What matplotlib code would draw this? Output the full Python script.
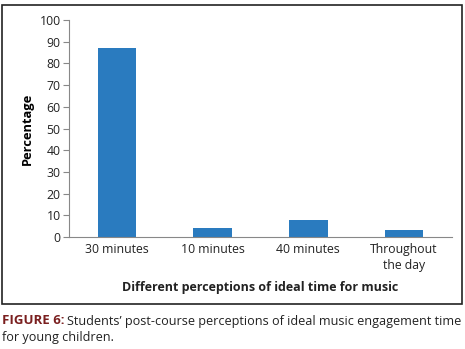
import matplotlib.pyplot as plt
from matplotlib.patches import Rectangle

categories = ['30 minutes', '10 minutes', '40 minutes', 'Throughout\nthe day']
percentages = [87, 4, 8, 3]
y_ticks = [0, 10, 20, 30, 40, 50, 60, 70, 80, 90, 100]

plt.rcParams['font.family'] = ['Open Sans', 'DejaVu Sans']

fig = plt.figure(figsize=(4.65, 3.49), dpi=100)
fig.patch.set_facecolor('white')

# frame around the chart
fig.add_artist(Rectangle((2 / 465, 45 / 349), 460 / 465, 299 / 349,
                         transform=fig.transFigure, fill=False,
                         edgecolor='#222222', linewidth=1.2))

ax = fig.add_axes([69 / 465, 112 / 349, 383 / 465, 217 / 349])
x = range(len(categories))
ax.bar(x, percentages, width=0.4, color='#2a7bbf')

ax.set_xlim(-0.5, len(categories) - 0.5)
ax.set_ylim(0, 100)
ax.set_yticks(y_ticks)
ax.set_xticks(list(x))
ax.set_xticklabels(categories, fontsize=8.8, color='#222222', linespacing=1.3)
ax.tick_params(axis='y', labelsize=8.8, colors='#222222', length=4, color='#888888', pad=2)
ax.tick_params(axis='x', length=0, pad=4)

for side in ['top', 'right']:
    ax.spines[side].set_visible(False)
ax.spines['left'].set_color('#888888')
ax.spines['bottom'].set_color('#888888')

ax.set_ylabel('Percentage', fontsize=9.3, fontweight='bold', labelpad=4)
fig.text(260 / 465, 1 - 288 / 349, 'Different perceptions of ideal time for music',
         ha='center', va='center', fontsize=9, fontweight='bold', color='#222222')

# caption
fig.text(2 / 465, 1 - 321 / 349, 'FIGURE 6:', fontsize=9.5, fontweight='bold',
         color='#7a1f1f', va='center')
fig.text(67 / 465, 1 - 321 / 349,
         'Students\u2019 post-course perceptions of ideal music engagement time',
         fontsize=9.1, color='#222222', va='center')
fig.text(2 / 465, 1 - 337 / 349, 'for young children.', fontsize=9.1,
         color='#222222', va='center')

fig.savefig('out.png', dpi=100)
